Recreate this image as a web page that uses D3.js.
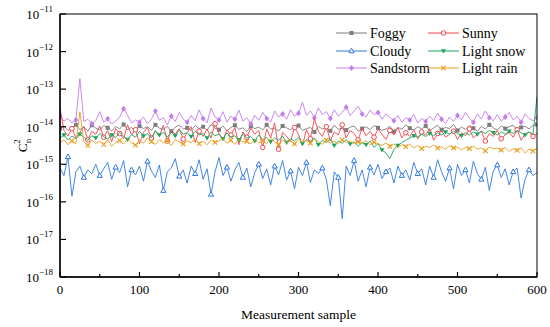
<!DOCTYPE html>
<html>
<head>
<meta charset="utf-8">
<script src="https://cdn.jsdelivr.net/npm/d3@7"></script>
<style>
  body { margin: 0; background: #fff; }
  svg { font-family: "Liberation Serif", "Times New Roman", serif; }
</style>
</head>
<body>
<div id="chart"></div>
<script>
/** sample step between stored points (log10 of Cn2) */
const sampleStep = 5;
const xTicks = [0, 100, 200, 300, 400, 500, 600];
const yExponents = [-18, -17, -16, -15, -14, -13, -12, -11];

const foggy = [
  -14.05,-13.98,-14.10,-14.02,-13.95,-14.08,-14.00,-14.12,-13.96,-14.04,
  -14.09,-13.97,-14.03,-14.11,-13.99,-14.06,-13.94,-14.08,-14.02,-14.13,
  -13.98,-14.05,-14.00,-14.10,-13.95,-14.04,-14.07,-13.99,-14.12,-14.01,
  -13.96,-14.06,-14.03,-14.10,-13.97,-14.05,-14.00,-14.09,-13.94,-14.04,
  -14.08,-13.98,-14.11,-14.02,-13.96,-14.07,-14.03,-14.13,-13.99,-14.05,
  -14.01,-14.09,-13.95,-14.06,-14.04,-14.12,-13.98,-14.03,-14.08,-14.00,
  -13.97,-14.10,-14.05,-14.02,-14.14,-13.99,-14.06,-14.03,-14.11,-13.96,
  -14.07,-14.04,-14.09,-14.01,-13.98,-14.12,-14.05,-14.00,-14.08,-13.97,
  -14.03,-14.10,-14.06,-13.99,-14.13,-14.02,-14.07,-13.95,-14.04,-14.09,
  -14.00,-14.06,-13.98,-14.11,-14.03,-13.96,-14.08,-14.02,-14.05,-13.94,
  -14.10,-14.01,-14.07,-13.97,-14.04,-14.12,-13.99,-14.06,-13.95,-14.03,
  -14.09,-13.98,-14.05,-14.00,-13.96,-14.08,-14.02,-13.99,-14.06,-13.97,-13.94
];

const sunny = [
  -13.50,-14.10,-14.25,-14.05,-14.30,-14.15,-14.00,-14.35,-14.12,-14.20,
  -13.98,-14.28,-14.10,-14.40,-14.05,-14.18,-14.32,-13.95,-14.22,-14.08,
  -14.45,-14.15,-14.02,-14.30,-14.12,-14.25,-13.96,-14.38,-14.10,-14.20,
  -14.05,-14.33,-14.16,-14.00,-14.42,-14.12,-14.26,-14.06,-14.30,-13.92,
  -14.18,-14.36,-14.08,-14.22,-14.02,-14.48,-14.14,-14.28,-14.04,-14.20,
  -14.10,-14.55,-14.06,-14.30,-13.90,-14.60,-14.15,-14.25,-14.40,-14.02,
  -14.20,-14.50,-14.08,-14.32,-13.78,-14.12,-14.26,-14.00,-14.38,-14.14,
  -14.22,-13.95,-14.30,-14.10,-14.18,-14.35,-14.04,-14.24,-14.12,-14.28,
  -14.06,-14.20,-14.34,-14.10,-14.22,-14.02,-14.30,-14.16,-14.26,-14.08,
  -14.32,-14.14,-14.22,-14.05,-14.36,-14.18,-14.10,-14.28,-14.20,-14.12,
  -14.34,-14.16,-14.24,-14.06,-14.30,-14.20,-14.12,-14.38,-14.18,-14.26,
  -14.10,-14.32,-14.22,-14.15,-14.28,-14.08,-14.36,-14.20,-14.14,-14.26,-14.18
];

const cloudy = [
  -15.10,-15.30,-14.80,-15.85,-15.20,-15.05,-15.35,-15.15,-15.25,-15.00,
  -15.30,-15.12,-14.95,-15.40,-15.08,-15.22,-14.90,-15.60,-15.15,-15.28,
  -15.05,-15.45,-14.92,-15.18,-15.35,-15.02,-15.70,-15.20,-15.10,-14.85,
  -15.32,-15.15,-15.50,-15.05,-15.25,-14.88,-15.40,-15.12,-15.80,-15.20,
  -14.82,-15.30,-15.08,-15.45,-15.15,-14.95,-15.35,-15.10,-15.60,-15.22,
  -15.00,-15.38,-15.12,-15.55,-15.05,-15.28,-14.90,-15.42,-15.18,-15.65,
  -15.08,-15.30,-14.95,-15.48,-15.15,-15.25,-15.10,-15.40,-16.10,-15.20,
  -15.35,-16.45,-15.05,-15.30,-14.90,-15.45,-15.15,-15.60,-15.08,-15.28,
  -15.00,-15.38,-15.20,-15.10,-15.50,-15.05,-15.30,-15.15,-15.42,-14.95,
  -15.25,-15.12,-15.55,-15.05,-15.35,-14.88,-15.20,-15.45,-15.10,-15.65,
  -15.00,-15.30,-15.15,-15.50,-14.92,-15.25,-15.40,-15.08,-15.70,-15.18,
  -15.02,-15.35,-15.12,-15.55,-15.20,-15.10,-15.90,-15.40,-15.15,-15.30,-15.22
];

const lightSnow = [
  -14.30,-14.22,-14.35,-14.25,-14.32,-14.20,-14.28,-14.36,-14.24,-14.30,
  -14.18,-14.27,-14.33,-14.22,-14.29,-14.15,-14.26,-14.34,-14.21,-14.28,
  -14.12,-14.25,-14.18,-14.30,-14.10,-14.22,-14.15,-14.28,-14.14,-14.24,
  -14.08,-14.20,-14.16,-14.26,-14.12,-14.22,-14.18,-14.30,-14.14,-14.24,
  -14.20,-14.32,-14.16,-14.28,-14.24,-14.35,-14.20,-14.30,-14.26,-14.38,
  -14.22,-14.34,-14.28,-14.40,-14.30,-14.36,-14.25,-14.42,-14.32,-14.38,
  -14.28,-14.45,-14.34,-14.40,-14.30,-14.48,-14.36,-14.42,-14.32,-14.50,
  -14.38,-14.44,-14.34,-14.46,-14.40,-14.52,-14.42,-14.48,-14.38,-14.55,
  -14.45,-14.62,-14.70,-14.85,-14.60,-14.50,-14.42,-14.36,-14.30,-14.24,
  -14.28,-14.20,-14.26,-14.18,-14.24,-14.16,-14.22,-14.14,-14.20,-14.12,
  -14.18,-14.24,-14.16,-14.22,-14.14,-14.20,-14.12,-14.18,-14.10,-14.16,
  -14.22,-14.14,-14.20,-14.12,-14.18,-14.10,-14.16,-14.22,-14.14,-14.20,-13.20
];

const sandstorm = [
  -13.72,-13.85,-13.78,-13.90,-13.82,-12.72,-13.86,-13.80,-13.92,-13.84,
  -13.60,-13.88,-13.79,-13.93,-13.85,-13.75,-13.52,-13.70,-13.90,-13.82,
  -13.88,-13.74,-13.92,-13.80,-13.58,-13.83,-13.76,-13.95,-13.72,-13.86,
  -13.62,-13.80,-13.88,-13.70,-13.84,-13.55,-13.78,-13.90,-13.50,-13.74,
  -13.82,-13.60,-13.88,-13.72,-13.80,-13.56,-13.85,-13.76,-13.92,-13.70,
  -13.83,-13.62,-13.78,-13.88,-13.58,-13.74,-13.66,-13.80,-13.55,-13.72,
  -13.64,-13.35,-13.70,-13.58,-13.76,-13.50,-13.68,-13.60,-13.78,-13.55,
  -13.72,-13.62,-13.48,-13.70,-13.58,-13.45,-13.66,-13.74,-13.56,-13.68,
  -13.62,-13.80,-13.66,-13.75,-13.84,-13.70,-13.88,-13.76,-13.82,-13.68,
  -13.90,-13.78,-13.86,-13.72,-13.84,-13.64,-13.80,-13.92,-13.74,-13.86,
  -13.70,-13.82,-13.62,-13.78,-13.88,-13.66,-13.80,-13.58,-13.76,-13.84,
  -13.68,-13.86,-13.74,-13.62,-13.82,-13.72,-13.88,-13.66,-13.78,-13.84,-13.76
];

const lightRain = [
  -14.42,-14.35,-14.48,-14.38,-14.45,-13.60,-14.40,-14.50,-14.36,-14.44,
  -14.39,-14.47,-14.34,-14.52,-14.41,-14.37,-14.46,-14.33,-14.43,-14.49,
  -14.36,-14.44,-14.30,-14.40,-14.47,-14.35,-14.42,-14.38,-14.50,-14.34,
  -14.41,-14.46,-14.37,-14.43,-14.32,-14.45,-14.39,-14.48,-14.35,-14.42,
  -14.38,-14.30,-14.44,-14.36,-14.47,-14.33,-14.41,-14.39,-14.46,-14.34,
  -14.43,-14.37,-14.45,-14.31,-14.40,-14.48,-14.35,-14.42,-14.38,-14.46,
  -14.34,-14.41,-14.37,-14.44,-14.32,-14.40,-14.47,-14.36,-14.43,-14.39,
  -14.45,-14.35,-14.42,-14.38,-14.46,-14.40,-14.44,-14.37,-14.48,-14.41,
  -14.45,-14.50,-14.43,-14.52,-14.46,-14.55,-14.48,-14.53,-14.47,-14.56,
  -14.50,-14.58,-14.52,-14.55,-14.49,-14.57,-14.53,-14.60,-14.51,-14.56,
  -14.54,-14.62,-14.55,-14.58,-14.52,-14.60,-14.56,-14.64,-14.54,-14.59,
  -14.57,-14.62,-14.55,-14.66,-14.58,-14.63,-14.56,-14.70,-14.60,-14.65,-14.58
];

const seriesNames = ['Foggy', 'Sunny', 'Cloudy', 'Light snow', 'Sandstorm', 'Light rain'];
const seriesData = [foggy, sunny, cloudy, lightSnow, sandstorm, lightRain];
const seriesColors = ['#7d7d7d', '#f5444c', '#2f78e0', '#1ea45e', '#c57ced', '#e99f1e'];
const seriesMarkers = ['square', 'circle', 'triangle', 'triangleDown', 'diamond', 'cross'];
const drawOrder = [0, 2, 4, 1, 3, 5];

/** canvas */
const width = 550, height = 327;
const margin = { top: 14, right: 13, bottom: 50, left: 60 };
const plotW = width - margin.left - margin.right;
const plotH = height - margin.top - margin.bottom;

const svg = d3.select('#chart').append('svg')
    .attr('width', width)
    .attr('height', height);

const xScale = d3.scaleLinear().domain([0, 600]).range([margin.left, margin.left + plotW]);
const yScale = d3.scaleLog().domain([1e-18, 1e-11]).range([margin.top + plotH, margin.top]);

svg.append('clipPath').attr('id', 'plotClip')
    .append('rect')
    .attr('x', margin.left).attr('y', margin.top)
    .attr('width', plotW).attr('height', plotH);

/** marker drawing */
function drawMarker(g, type, color, x, y) {
    if (type === 'square') {
        g.append('rect').attr('x', x - 2).attr('y', y - 2).attr('width', 4).attr('height', 4).attr('fill', color);
    } else if (type === 'circle') {
        g.append('circle').attr('cx', x).attr('cy', y).attr('r', 2.3)
            .attr('fill', '#fff').attr('stroke', color).attr('stroke-width', 1);
    } else if (type === 'triangle') {
        g.append('path').attr('d', `M${x},${y - 2.8}L${x + 2.6},${y + 1.8}L${x - 2.6},${y + 1.8}Z`)
            .attr('fill', '#fff').attr('stroke', color).attr('stroke-width', 1);
    } else if (type === 'triangleDown') {
        g.append('path').attr('d', `M${x},${y + 2.6}L${x + 2.6},${y - 1.8}L${x - 2.6},${y - 1.8}Z`)
            .attr('fill', color);
    } else if (type === 'diamond') {
        g.append('path').attr('d', `M${x},${y - 3}L${x + 2.4},${y}L${x},${y + 3}L${x - 2.4},${y}Z`)
            .attr('fill', color);
    } else if (type === 'cross') {
        g.append('path').attr('d', `M${x - 2.2},${y - 2.2}L${x + 2.2},${y + 2.2}M${x + 2.2},${y - 2.2}L${x - 2.2},${y + 2.2}`)
            .attr('stroke', color).attr('stroke-width', 1.2);
    }
}

const lineGen = d3.line()
    .x(function (d, i) { return xScale(i * sampleStep); })
    .y(function (d) { return yScale(Math.pow(10, d)); });

const plot = svg.append('g').attr('clip-path', 'url(#plotClip)');

drawOrder.forEach(function (k) {
    const g = plot.append('g');
    g.append('path')
        .datum(seriesData[k])
        .attr('d', lineGen)
        .attr('fill', 'none')
        .attr('stroke', seriesColors[k])
        .attr('stroke-width', 0.9)
        .attr('stroke-linejoin', 'round');
    seriesData[k].forEach(function (d, i) {
        if ((i + k) % 4 === 0) {
            drawMarker(g, seriesMarkers[k], seriesColors[k], xScale(i * sampleStep), yScale(Math.pow(10, d)));
        }
    });
});

/** frame */
svg.append('rect')
    .attr('x', margin.left).attr('y', margin.top)
    .attr('width', plotW).attr('height', plotH)
    .attr('fill', 'none').attr('stroke', '#000').attr('stroke-width', 1);

/** x axis */
const xAxisG = svg.append('g').attr('transform', `translate(0, ${margin.top + plotH})`);
xAxisG.append('line')
    .attr('x1', margin.left).attr('x2', margin.left + plotW)
    .attr('stroke', '#000').attr('stroke-width', 1.4);
d3.range(0, 601, 50).forEach(function (v) {
    const major = v % 100 === 0;
    xAxisG.append('line')
        .attr('x1', xScale(v)).attr('x2', xScale(v))
        .attr('y1', 0).attr('y2', major ? -5 : -3)
        .attr('stroke', '#000').attr('stroke-width', 1.2);
});
xAxisG.selectAll('.xlab').data(xTicks).enter()
    .append('text')
    .attr('class', 'xlab')
    .attr('x', function (d) { return xScale(d); })
    .attr('y', 17)
    .attr('text-anchor', 'middle')
    .style('font-size', '13px')
    .text(function (d) { return d; });

/** y axis */
const yAxisG = svg.append('g');
yAxisG.append('line')
    .attr('x1', margin.left).attr('x2', margin.left)
    .attr('y1', margin.top).attr('y2', margin.top + plotH)
    .attr('stroke', '#000').attr('stroke-width', 1.4);
yExponents.forEach(function (e) {
    const y = yScale(Math.pow(10, e));
    yAxisG.append('line')
        .attr('x1', margin.left).attr('x2', margin.left + 6)
        .attr('y1', y).attr('y2', y)
        .attr('stroke', '#000').attr('stroke-width', 1.2);
    const t = yAxisG.append('text')
        .attr('x', margin.left - 7)
        .attr('y', y + 5)
        .attr('text-anchor', 'end')
        .style('font-size', '13px');
    t.append('tspan').text('10');
    t.append('tspan').attr('dy', -7).style('font-size', '9px').text('\u2212' + Math.abs(e));
});

/** axis titles */
svg.append('text')
    .attr('x', xScale(300))
    .attr('y', 319)
    .attr('text-anchor', 'middle')
    .style('font-size', '13.5px')
    .text('Measurement sample');

const yTitle = svg.append('text')
    .attr('transform', `translate(27, ${margin.top + plotH / 2}) rotate(-90)`)
    .attr('text-anchor', 'middle')
    .style('font-size', '13.5px');
yTitle.append('tspan').text('C');
yTitle.append('tspan').attr('dy', 4).style('font-size', '9px').text('n');
yTitle.append('tspan').attr('dx', -5).attr('dy', -11).style('font-size', '9px').text('2');

/** legend */
const legendPos = [
    [336, 33], [428, 33],
    [336, 51], [428, 51],
    [336, 68], [428, 68]
];
seriesNames.forEach(function (name, k) {
    const lx = legendPos[k][0], ly = legendPos[k][1];
    const g = svg.append('g');
    g.append('line')
        .attr('x1', lx).attr('x2', lx + 31)
        .attr('y1', ly).attr('y2', ly)
        .attr('stroke', seriesColors[k]).attr('stroke-width', 1);
    drawMarker(g, seriesMarkers[k], seriesColors[k], lx + 15.5, ly);
    g.append('text')
        .attr('x', lx + 34)
        .attr('y', ly + 5)
        .style('font-size', '14px')
        .text(name);
});
</script>
</body>
</html>
